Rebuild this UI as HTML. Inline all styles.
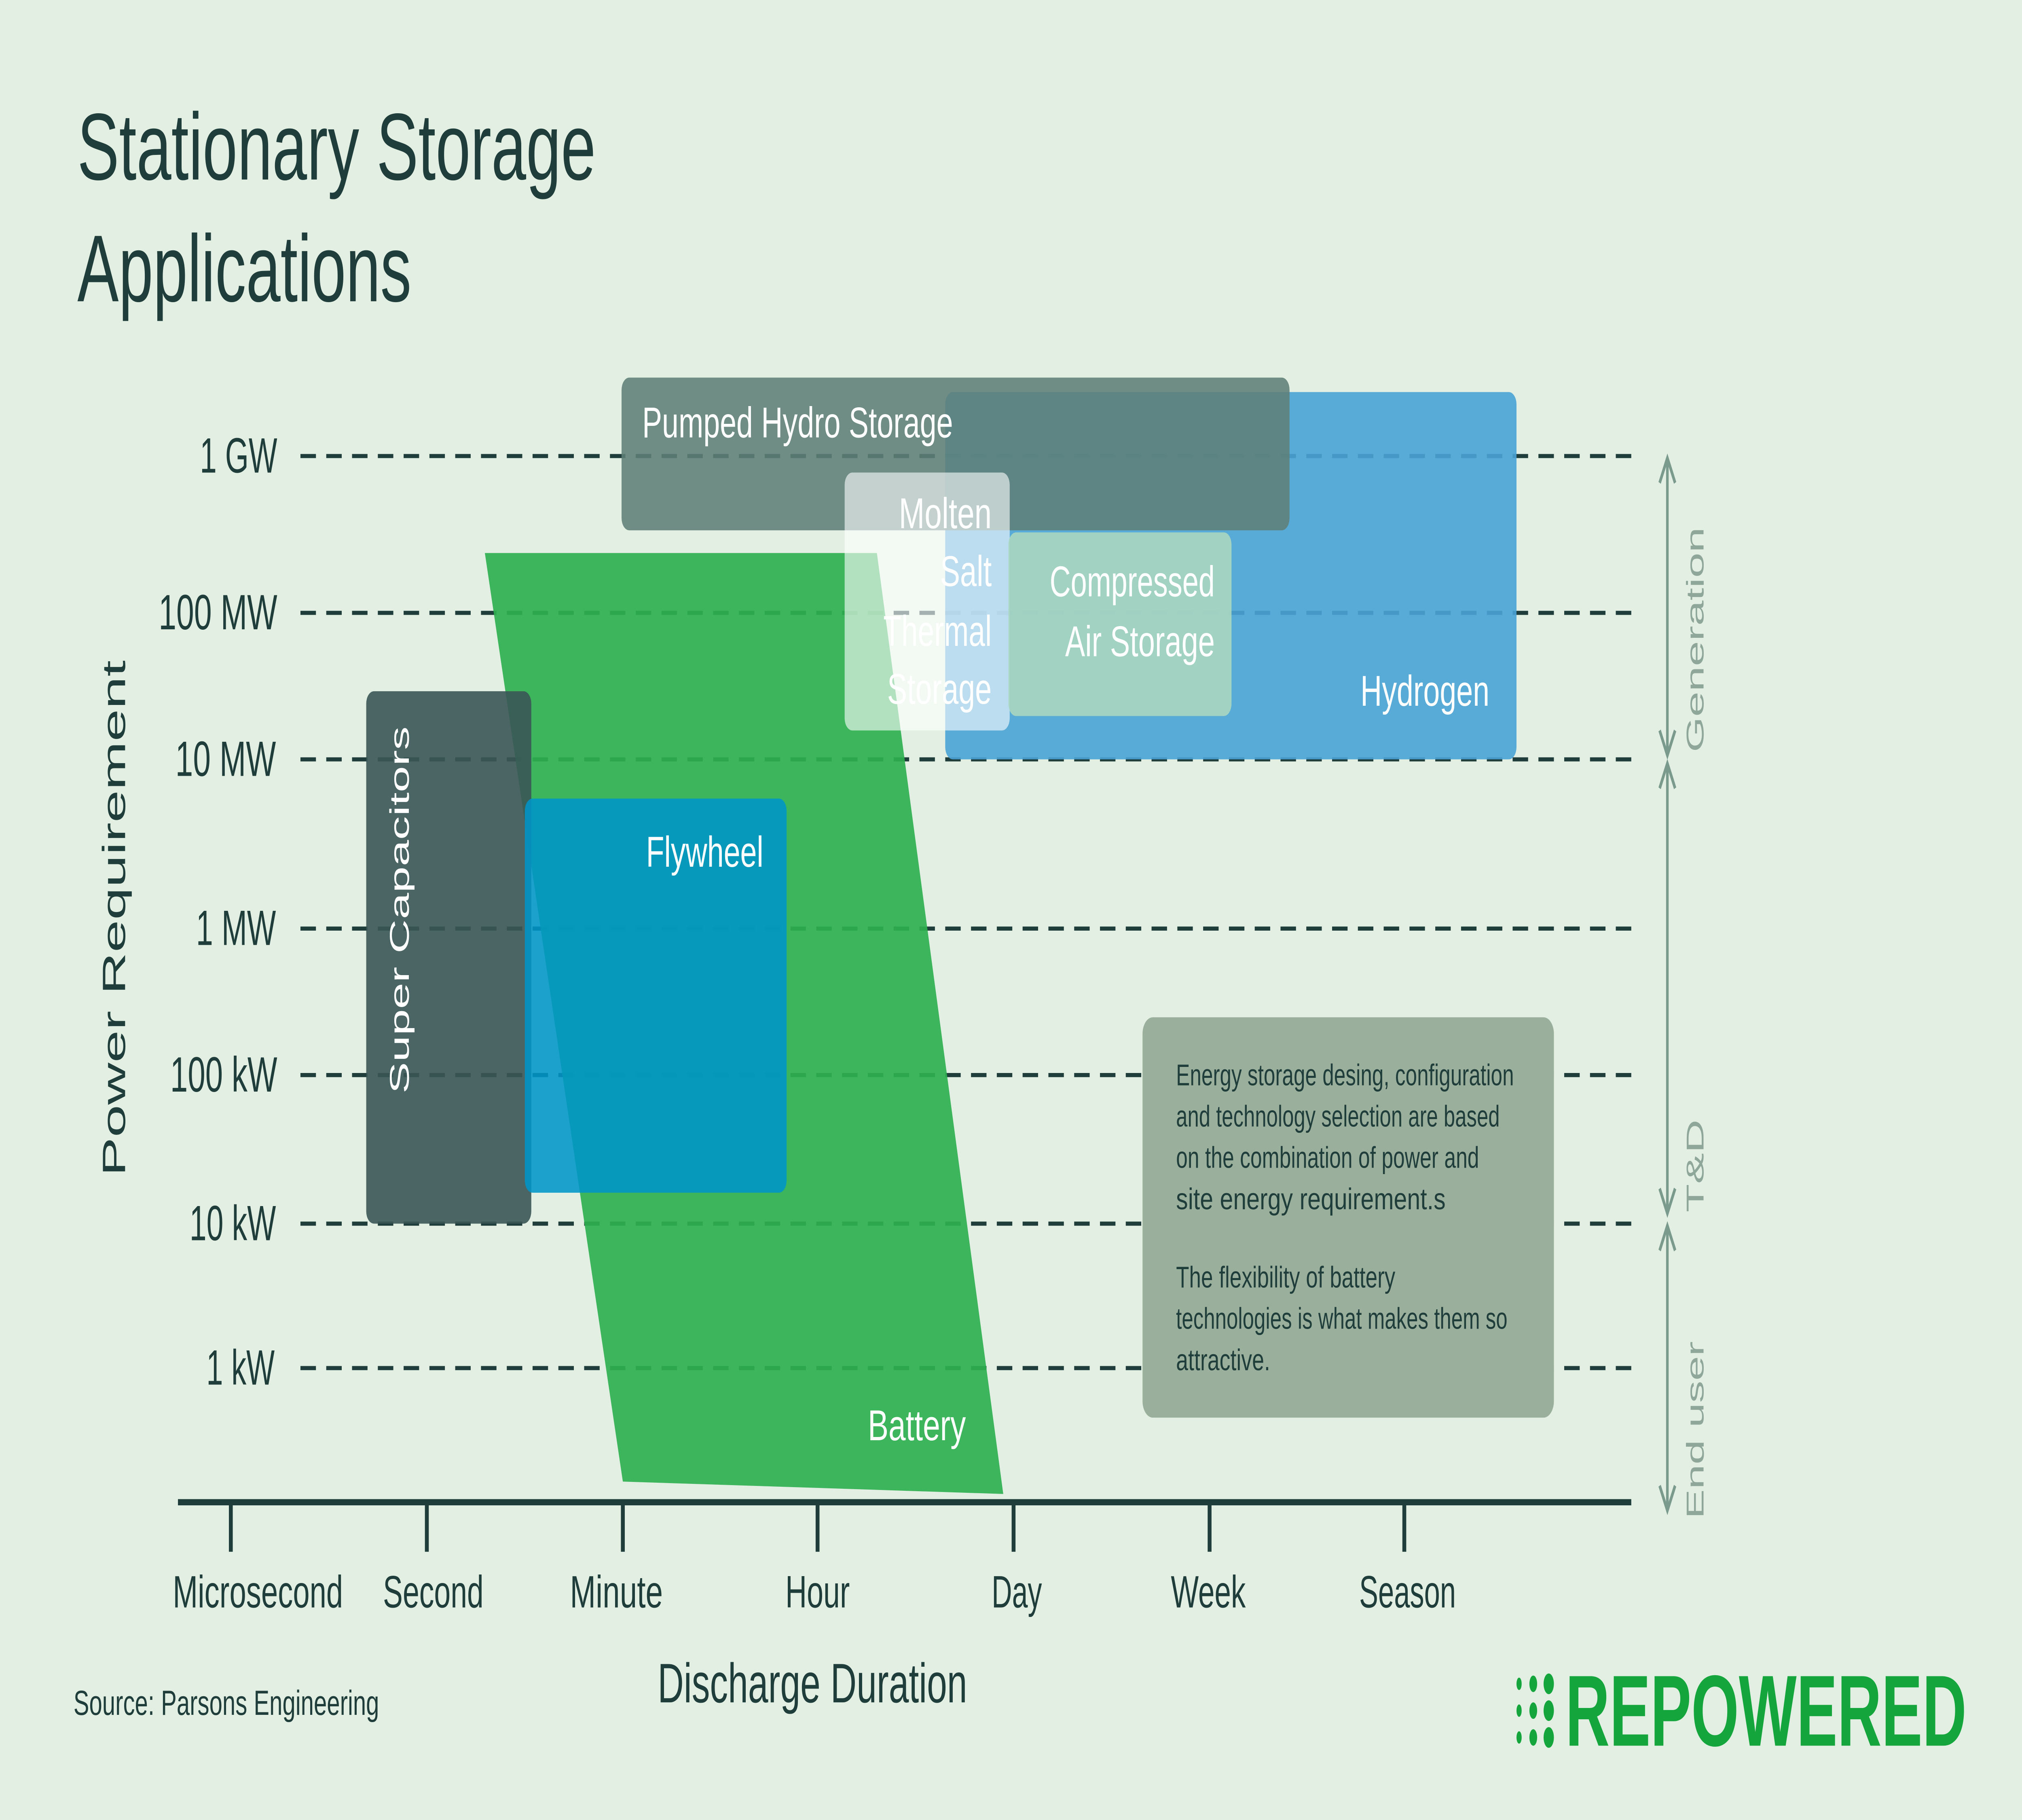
<!DOCTYPE html>
<html><head><meta charset="utf-8"><style>
html,body{margin:0;padding:0;background:#e2efe2;width:100%;height:100%;overflow:hidden;}
svg{display:block;width:100vw;height:100vh;}
text{font-family:"Liberation Sans",sans-serif;}
</style></head><body>
<svg viewBox="0 0 1568 882" preserveAspectRatio="none" xmlns="http://www.w3.org/2000/svg">
<rect width="1568" height="882" fill="#e2efe2"/>
<g lengthAdjust="spacingAndGlyphs">
<text x="60" y="87" font-size="46" fill="#1f3d3a" textLength="402" lengthAdjust="spacingAndGlyphs">Stationary Storage</text>
<text x="60" y="146" font-size="46" fill="#1f3d3a" textLength="259" lengthAdjust="spacingAndGlyphs">Applications</text>
</g>
<g stroke="#1f3d3a" stroke-width="2" stroke-dasharray="12 8">
<line x1="233" y1="221" x2="1265" y2="221"/>
<line x1="233" y1="297" x2="1265" y2="297"/>
<line x1="233" y1="368" x2="1265" y2="368"/>
<line x1="233" y1="450" x2="1265" y2="450"/>
<line x1="233" y1="521" x2="1265" y2="521"/>
<line x1="233" y1="593" x2="1265" y2="593"/>
<line x1="233" y1="663" x2="1265" y2="663"/>
</g>
<g font-size="24" fill="#1f3d3a" text-anchor="end">
<text x="215" y="229" textLength="60" lengthAdjust="spacingAndGlyphs">1 GW</text>
<text x="215" y="305" textLength="92" lengthAdjust="spacingAndGlyphs">100 MW</text>
<text x="214" y="376" textLength="78" lengthAdjust="spacingAndGlyphs">10 MW</text>
<text x="214" y="458" textLength="62" lengthAdjust="spacingAndGlyphs">1 MW</text>
<text x="215" y="529" textLength="83" lengthAdjust="spacingAndGlyphs">100 kW</text>
<text x="214" y="601" textLength="67" lengthAdjust="spacingAndGlyphs">10 kW</text>
<text x="213" y="671" textLength="53" lengthAdjust="spacingAndGlyphs">1 kW</text>
</g>
<text transform="translate(97,445) rotate(-90)" font-size="25" fill="#1f3d3a" text-anchor="middle" textLength="250" lengthAdjust="spacingAndGlyphs">Power Requirement</text>
<rect x="733" y="190" width="443" height="178" rx="6" fill="#4aa3d6" opacity="0.9"/>
<rect x="482" y="183" width="518" height="74" rx="6" fill="#5e7f78" opacity="0.88"/>
<polygon points="376,268 680,268 778,724 483,718" fill="#2fb050" opacity="0.92"/>
<rect x="284" y="335" width="128" height="258" rx="6" fill="#3a5555" opacity="0.9"/>
<rect x="407" y="387" width="203" height="191" rx="6" fill="#0095c8" opacity="0.88"/>
<rect x="655" y="229" width="128" height="125" rx="6" fill="#ffffff" opacity="0.6"/>
<rect x="782" y="258" width="173" height="89" rx="6" fill="#a9d6c0" opacity="0.9"/>
<g fill="#ffffff" font-size="21">
<text x="498" y="212" textLength="241" lengthAdjust="spacingAndGlyphs">Pumped Hydro Storage</text>
<text x="769" y="256" text-anchor="end" textLength="72" lengthAdjust="spacingAndGlyphs">Molten</text>
<text x="769" y="284" text-anchor="end" textLength="40" lengthAdjust="spacingAndGlyphs">Salt</text>
<text x="769" y="313" text-anchor="end" textLength="84" lengthAdjust="spacingAndGlyphs">Thermal</text>
<text x="769" y="341" text-anchor="end" textLength="81" lengthAdjust="spacingAndGlyphs">Storage</text>
<text x="942" y="289" text-anchor="end" textLength="128" lengthAdjust="spacingAndGlyphs">Compressed</text>
<text x="942" y="318" text-anchor="end" textLength="116" lengthAdjust="spacingAndGlyphs">Air Storage</text>
<text x="1155" y="342" text-anchor="end" textLength="100" lengthAdjust="spacingAndGlyphs">Hydrogen</text>
<text x="592" y="420" text-anchor="end" textLength="91" lengthAdjust="spacingAndGlyphs">Flywheel</text>
<text x="749" y="698" text-anchor="end" textLength="76" lengthAdjust="spacingAndGlyphs">Battery</text>
<text transform="translate(317,441) rotate(-90)" text-anchor="middle" textLength="178" lengthAdjust="spacingAndGlyphs">Super Capacitors</text>
</g>
<rect x="886" y="493" width="319" height="194" rx="8" fill="#9bb09c"/>
<g font-size="14.5" fill="#1f3d3a">
<text x="912" y="526" textLength="262" lengthAdjust="spacingAndGlyphs">Energy storage desing, configuration</text>
<text x="912" y="546" textLength="251" lengthAdjust="spacingAndGlyphs">and technology selection are based</text>
<text x="912" y="566" textLength="235" lengthAdjust="spacingAndGlyphs">on the combination of power and</text>
<text x="912" y="586" textLength="209" lengthAdjust="spacingAndGlyphs">site energy requirement.s</text>
<text x="912" y="624" textLength="170" lengthAdjust="spacingAndGlyphs">The flexibility of battery</text>
<text x="912" y="644" textLength="257" lengthAdjust="spacingAndGlyphs">technologies is what makes them so</text>
<text x="912" y="664" textLength="73" lengthAdjust="spacingAndGlyphs">attractive.</text>
</g>
<line x1="138" y1="728" x2="1265" y2="728" stroke="#1f3d3a" stroke-width="3"/>
<g stroke="#1f3d3a" stroke-width="3">
<line x1="179" y1="728" x2="179" y2="752"/>
<line x1="331" y1="728" x2="331" y2="752"/>
<line x1="483" y1="728" x2="483" y2="752"/>
<line x1="634" y1="728" x2="634" y2="752"/>
<line x1="786" y1="728" x2="786" y2="752"/>
<line x1="938" y1="728" x2="938" y2="752"/>
<line x1="1089" y1="728" x2="1089" y2="752"/>
</g>
<g font-size="22" fill="#1f3d3a">
<text x="134" y="779" textLength="132" lengthAdjust="spacingAndGlyphs">Microsecond</text>
<text x="297" y="779" textLength="78" lengthAdjust="spacingAndGlyphs">Second</text>
<text x="442" y="779" textLength="72" lengthAdjust="spacingAndGlyphs">Minute</text>
<text x="609" y="779" textLength="50" lengthAdjust="spacingAndGlyphs">Hour</text>
<text x="769" y="779" textLength="39" lengthAdjust="spacingAndGlyphs">Day</text>
<text x="908" y="779" textLength="58" lengthAdjust="spacingAndGlyphs">Week</text>
<text x="1054" y="779" textLength="75" lengthAdjust="spacingAndGlyphs">Season</text>
</g>
<text x="510" y="825" font-size="27" fill="#1f3d3a" textLength="240" lengthAdjust="spacingAndGlyphs">Discharge Duration</text>
<text x="57" y="831" font-size="17" fill="#1f3d3a" textLength="237" lengthAdjust="spacingAndGlyphs">Source: Parsons Engineering</text>
<g stroke="#7b9a8e" stroke-width="2" fill="none">
<line x1="1293" y1="224" x2="1293" y2="364"/>
<polyline points="1287,234 1293,222 1299,234"/>
<polyline points="1287,354 1293,366 1299,354"/>
<line x1="1293" y1="372" x2="1293" y2="586"/>
<polyline points="1287,382 1293,370 1299,382"/>
<polyline points="1287,576 1293,588 1299,576"/>
<line x1="1293" y1="596" x2="1293" y2="730"/>
<polyline points="1287,606 1293,594 1299,606"/>
<polyline points="1287,720 1293,732 1299,720"/>
</g>
<g font-size="19" fill="#8fa79a" text-anchor="middle">
<text transform="translate(1321,310) rotate(-90)" textLength="109" lengthAdjust="spacingAndGlyphs">Generation</text>
<text transform="translate(1321,565) rotate(-90)" textLength="45" lengthAdjust="spacingAndGlyphs">T&amp;D</text>
<text transform="translate(1321,693) rotate(-90)" textLength="86" lengthAdjust="spacingAndGlyphs">End user</text>
</g>
<g fill="#14a53c">
<ellipse cx="1178" cy="816" rx="2" ry="3"/><ellipse cx="1189" cy="816" rx="3" ry="4"/><ellipse cx="1201" cy="816" rx="4" ry="5"/>
<ellipse cx="1178" cy="829" rx="2" ry="3"/><ellipse cx="1189" cy="829" rx="3" ry="4"/><ellipse cx="1201" cy="829" rx="4" ry="5"/>
<ellipse cx="1178" cy="842" rx="2" ry="3"/><ellipse cx="1189" cy="842" rx="3" ry="4"/><ellipse cx="1201" cy="842" rx="4" ry="5"/>
<text x="1214" y="846" font-size="49" font-weight="bold" textLength="311" lengthAdjust="spacingAndGlyphs">REPOWERED</text>
</g>
</svg>
</body></html>
